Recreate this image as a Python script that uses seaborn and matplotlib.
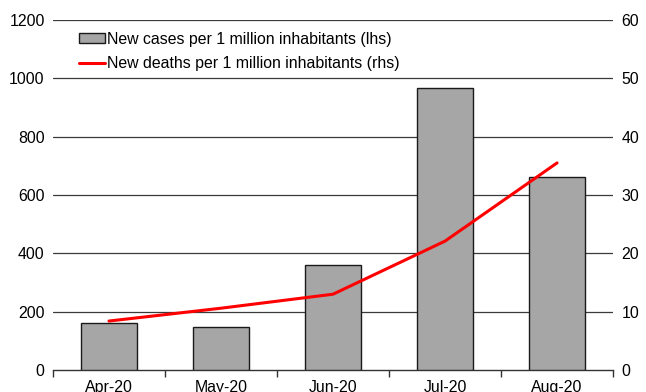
import numpy as np
import matplotlib
matplotlib.use("Agg")
import matplotlib.pyplot as plt
import seaborn as sns
from matplotlib.patches import Patch
from matplotlib.lines import Line2D

months = ["Apr-20", "May-20", "Jun-20", "Jul-20", "Aug-20"]
new_cases = [161, 146, 360, 967, 661]
new_deaths = [8.4, 10.6, 13.0, 22.1, 35.5]
lhs_ticks = [0, 200, 400, 600, 800, 1000, 1200]
rhs_ticks = [0, 10, 20, 30, 40, 50, 60]

FS = 11.4

sns.set_theme(style="white")
plt.rcParams["font.family"] = ["Liberation Sans", "DejaVu Sans"]
plt.rcParams["font.size"] = FS
plt.rcParams["text.color"] = "black"

fig = plt.figure(figsize=(6.46, 3.92), dpi=100)
ax = fig.add_axes([0.082, 0.056, 0.867, 0.893])

sns.barplot(x=months, y=new_cases, color="#a6a6a6", edgecolor="#1a1a1a",
            linewidth=1.0, width=0.5, saturation=1, ax=ax, zorder=3)
ax.set_ylim(0, 1200)
ax.set_yticks(lhs_ticks)
ax.set_xlim(-0.5, len(months) - 0.5)
for y in lhs_ticks[1:]:
    ax.axhline(y, color="#3a3a3a", linewidth=0.9, zorder=1)

ax2 = ax.twinx()
pos = np.arange(len(months))
sns.lineplot(x=pos, y=new_deaths, color="#ff0000", linewidth=2.2, ax=ax2)
ax2.set_ylim(0, 60)
ax2.set_yticks(rhs_ticks)
ax2.set_xlim(-0.5, len(months) - 0.5)

for a in (ax, ax2):
    for side in ("left", "right", "top", "bottom"):
        a.spines[side].set_visible(False)
    a.tick_params(axis="y", length=0, pad=6, labelsize=FS, colors="black")
ax.spines["bottom"].set_visible(True)
ax.spines["bottom"].set_color("#333333")
ax.spines["bottom"].set_linewidth(1.0)

ax.set_xticks(pos)
ax.set_xticklabels(months)
ax.set_xticks(np.arange(len(months) + 1) - 0.5, minor=True)
ax.tick_params(axis="x", which="major", length=0, pad=7, labelsize=FS, colors="black")
ax.tick_params(axis="x", which="minor", length=5, width=1.0, color="#333333",
               direction="out", bottom=True)
ax2.set_ylabel("")
ax.set_ylabel("")

handles = [
    Patch(facecolor="#a6a6a6", edgecolor="#1a1a1a", linewidth=1.0),
    Line2D([0], [0], color="#ff0000", linewidth=2.2),
]
labels = [
    "New cases per 1 million inhabitants (lhs)",
    "New deaths per 1 million inhabitants (rhs)",
]
ax2.legend(handles, labels, loc="upper left", bbox_to_anchor=(0.035, 0.985),
           frameon=False, fontsize=FS, labelcolor="black", handlelength=1.67,
           handleheight=0.55, handletextpad=0.13, labelspacing=0.6,
           borderaxespad=0)

fig.savefig("out.png", dpi=100)
